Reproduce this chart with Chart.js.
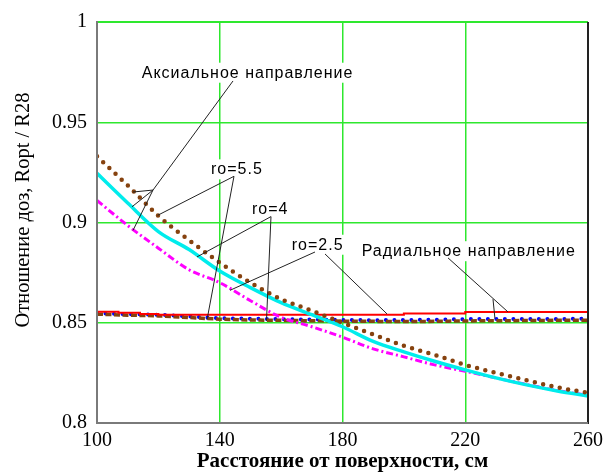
<!DOCTYPE html>
<html><head><meta charset="utf-8">
<script src="https://cdn.jsdelivr.net/npm/chart.js@4/dist/chart.umd.min.js"></script>
<style>html,body{margin:0;padding:0;background:#fff}canvas{display:block}</style>
</head><body>
<canvas id="c" width="616" height="473"></canvas>
<script>
// ---- data ----
const xAxial   = [100,110,120,130,140,150,160,170,180,190,200,210,220,230,240,250,260];
const axial55  = [0.933,0.9185,0.9033,0.8912,0.880,0.870,0.8618,0.856,0.850,0.8442,0.8385,0.834,0.829,0.825,0.8213,0.8178,0.815];
const axial4   = [0.9245,0.9097,0.8955,0.8865,0.8758,0.8675,0.860,0.854,0.848,0.8407,0.8355,0.8308,0.8265,0.8225,0.819,0.816,0.8135];
const axial25  = [0.911,0.8985,0.8872,0.8764,0.870,0.861,0.8527,0.848,0.8428,0.837,0.833,0.829,0.8258,0.8225,0.8192,0.8162,0.8138];

const xRadialRed = [100,107,114,120,200,220,260];
const radial25   = [0.8555,0.855,0.8544,0.854,0.8546,0.8553,0.8553];

const xRadial  = [100,110,120,130,140,150,160,170,180,190,200,210,220,230,240,250,260];
const radial4  = [0.8548,0.8543,0.854,0.8532,0.8523,0.852,0.8518,0.8516,0.8514,0.8513,0.8514,0.8515,0.8518,0.8519,0.8519,0.8519,0.852];
const radial55 = [0.8543,0.8538,0.8534,0.8526,0.8518,0.8514,0.8512,0.851,0.8508,0.8507,0.8506,0.8507,0.8509,0.851,0.8511,0.8512,0.8513];

const xTicks = [100,140,180,220,260];
const xTickLabels = ['100','140','180','220','260'];
const yTicks = [0.8,0.85,0.9,0.95,1];
const yTickLabels = ['0.8','0.85','0.9','0.95','1'];

const xTitle = 'Расстояние от поверхности, см';
const yTitle = 'Отношение доз, Ropt / R28';

// annotation texts (anchor = left/baseline, in data units) and leader lines
const labels = [
  {text:'Аксиальное направление', x:114.57, y:0.97221},
  {text:'ro=5.5', x:137.15, y:0.92402},
  {text:'ro=4',   x:150.51, y:0.90441},
  {text:'ro=2.5', x:163.45, y:0.88642},
  {text:'Радиальное направление', x:186.26, y:0.88319}
];
const leaders = [
  [144.32,0.97059,118.25,0.91618],
  [118.25,0.91618,111.73,0.91520],
  [118.25,0.91618,111.41,0.90784],
  [118.25,0.91618,111.73,0.89608],
  [144.64,0.92304,119.78,0.90358],
  [144.64,0.92304,135.85,0.85147],
  [156.70,0.90294,132.59,0.88284],
  [156.70,0.90294,155.23,0.85098],
  [171.04,0.88529,143.34,0.86618],
  [174.30,0.88431,194.50,0.85441],
  [214.38,0.88235,233.93,0.85539],
  [229.04,0.86176,229.69,0.85196]
];

const pts = (xs, ys) => xs.map((x,i)=>({x, y:ys[i]}));
const GREEN = '#2ee82e';
const BROWN = '#86420f';

const decor = {
  id:'decor',
  beforeDatasetsDraw(chart){
    const {ctx, scales:{x,y}} = chart;
    ctx.save();
    ctx.font = '16px "Liberation Sans", Arial, sans-serif';
    ctx.letterSpacing = '1px';
    ctx.textBaseline = 'alphabetic';
    labels.forEach(l=>{
      const px = x.getPixelForValue(l.x), py = y.getPixelForValue(l.y);
      const w = ctx.measureText(l.text).width;
      ctx.fillStyle = '#fff';
      ctx.fillRect(px-2, py-15, w+4, 20);
      ctx.fillStyle = '#000';
      ctx.fillText(l.text, px, py);
    });
    ctx.restore();
  },
  afterDatasetsDraw(chart){
    const {ctx, chartArea:a, scales:{x,y}} = chart;
    ctx.save();
    ctx.strokeStyle = '#222';
    ctx.lineWidth = 1;
    leaders.forEach(s=>{
      ctx.beginPath();
      ctx.moveTo(x.getPixelForValue(s[0]), y.getPixelForValue(s[1]));
      ctx.lineTo(x.getPixelForValue(s[2]), y.getPixelForValue(s[3]));
      ctx.stroke();
    });
    // frame
    ctx.lineWidth = 2;
    ctx.strokeStyle = GREEN;
    ctx.beginPath(); ctx.moveTo(a.left, a.top); ctx.lineTo(a.right, a.top); ctx.stroke();
    ctx.strokeStyle = '#222';
    ctx.beginPath(); ctx.moveTo(a.right, a.top); ctx.lineTo(a.right, a.bottom+1); ctx.stroke();
    ctx.strokeStyle = '#7a7a7a';
    ctx.beginPath(); ctx.moveTo(a.left, a.top-1); ctx.lineTo(a.left, a.bottom); ctx.lineTo(a.right, a.bottom); ctx.stroke();
    // axis titles
    ctx.fillStyle = '#000';
    ctx.textAlign = 'center';
    ctx.textBaseline = 'middle';
    ctx.font = 'bold 21px "Liberation Serif", "Times New Roman", serif';
    ctx.fillText(xTitle, (a.left+a.right)/2, 462);
    ctx.translate(24, 210);
    ctx.rotate(-Math.PI/2);
    ctx.font = '20.5px "Liberation Serif", "Times New Roman", serif';
    ctx.fillText(yTitle, 0, 0);
    ctx.restore();
  }
};

const tickFont = {family:'"Liberation Serif", "Times New Roman", serif', size:20};

new Chart(document.getElementById('c'), {
  type:'line',
  data:{
    datasets:[
      {label:'axial 5.5', data:pts(xAxial, axial55), borderColor:BROWN, borderWidth:4.5, borderDash:[0,8.5], borderCapStyle:'round', cubicInterpolationMode:'monotone', pointRadius:0, fill:false},
      {label:'axial 4', data:pts(xAxial, axial4), borderColor:'#00ecec', borderWidth:3.5, cubicInterpolationMode:'monotone', pointRadius:0, fill:false},
      {label:'axial 2.5', data:pts(xAxial, axial25), borderColor:'#ff00ff', borderWidth:3, borderDash:[7,3,2,3], cubicInterpolationMode:'monotone', pointRadius:0, fill:false},
      {label:'radial 2.5', data:pts(xRadialRed, radial25), borderColor:'#ff0000', borderWidth:2, stepped:true, pointRadius:0, fill:false},
      {label:'radial 5.5', data:pts(xRadial, radial55), borderColor:BROWN, borderWidth:3.5, borderDash:[6,2.5], cubicInterpolationMode:'monotone', pointRadius:0, fill:false},
      {label:'radial 4', data:pts(xRadial, radial4), borderColor:'#0000ff', borderWidth:4, borderDash:[0,8.5], borderCapStyle:'round', cubicInterpolationMode:'monotone', pointRadius:0, fill:false}
    ]
  },
  options:{
    responsive:false,
    animation:false,
    devicePixelRatio:1,
    layout:{padding:{top:15,right:28,left:0,bottom:0}},
    plugins:{legend:{display:false}, tooltip:{enabled:false}},
    scales:{
      x:{
        type:'linear', min:100, max:260,
        afterBuildTicks:s=>{ s.ticks = xTicks.map(v=>({value:v})); },
        afterFit:s=>{ s.height = 50; },
        ticks:{font:tickFont, color:'#000', padding:6, maxRotation:0, autoSkip:false, callback:(v,i)=>xTickLabels[i]},
        grid:{color:c=> (c.tick && (c.tick.value===100 || c.tick.value===260)) ? 'rgba(0,0,0,0)' : GREEN, lineWidth:1.5, drawTicks:false},
        border:{display:false}
      },
      y:{
        type:'linear', min:0.8, max:1,
        afterBuildTicks:s=>{ s.ticks = yTicks.map(v=>({value:v})); },
        afterFit:s=>{ s.width = 97; },
        ticks:{font:tickFont, color:'#000', padding:10, autoSkip:false, callback:(v,i)=>yTickLabels[i]},
        grid:{color:c=> (c.tick && c.tick.value===0.8) ? 'rgba(0,0,0,0)' : GREEN, lineWidth:1.5, drawTicks:false},
        border:{display:false}
      }
    }
  },
  plugins:[decor]
});
</script>
</body></html>
